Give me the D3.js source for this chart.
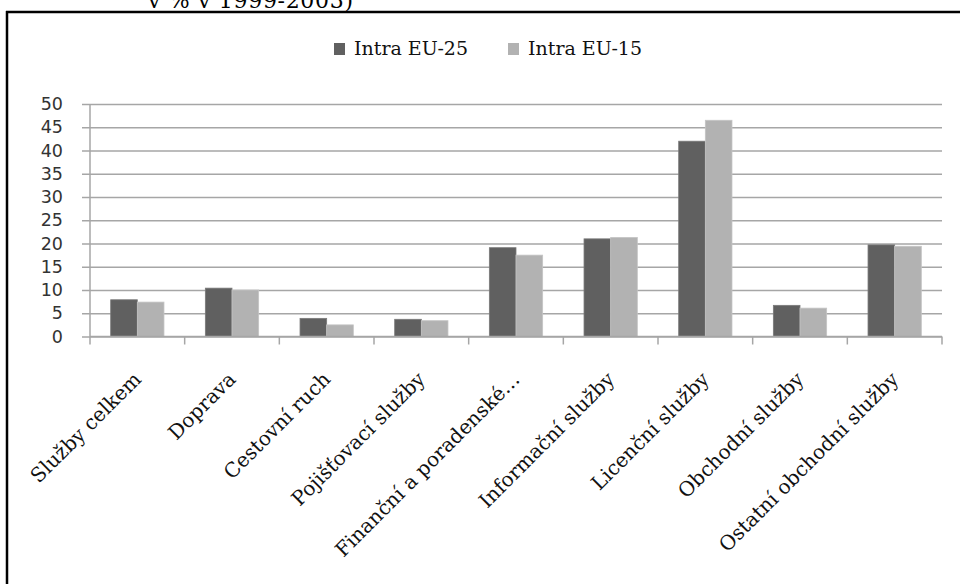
<!DOCTYPE html>
<html>
<head>
<meta charset="UTF-8" />
<title>Intra EU</title>
<script src="https://cdnjs.cloudflare.com/ajax/libs/d3/7.8.5/d3.min.js"></script>
<style>
  body { margin: 0; background: #fff; }
  svg { display: block; }
</style>
</head>
<body>
<script>
// data
var categories = ["Služby celkem", "Doprava", "Cestovní ruch", "Pojišťovací služby",
  "Finanční a poradenské…", "Informační služby", "Licenční služby",
  "Obchodní služby", "Ostatní obchodní služby"];
var seriesNames = ["Intra EU-25", "Intra EU-15"];
var eu25 = [7.9, 10.4, 3.9, 3.7, 19.1, 21.0, 42.0, 6.7, 19.7];
var eu15 = [7.4, 10.0, 2.5, 3.4, 17.5, 21.3, 46.5, 6.1, 19.4];
var yTicks = [0, 5, 10, 15, 20, 25, 30, 35, 40, 45, 50];
var colors = ["#606060", "#b2b2b2"];

var W = 960, H = 584;
var plotL = 90, plotR = 942, plotT = 104, plotB = 336.5;

var svg = d3.select("body").append("svg")
  .attr("width", W)
  .attr("height", H);

// cut-off title and frame
svg.append("text")
  .attr("x", 148).attr("y", 8)
  .attr("font-family", "DejaVu Serif, serif")
  .attr("font-size", 22)
  .attr("textLength", 205)
  .attr("fill", "#000")
  .text("v % v 1999-2003)");
svg.append("line").attr("x1", 6).attr("x2", W).attr("y1", 12).attr("y2", 12)
  .attr("stroke", "#000").attr("stroke-width", 2.5);
svg.append("line").attr("x1", 7).attr("x2", 7).attr("y1", 11).attr("y2", H)
  .attr("stroke", "#000").attr("stroke-width", 2.5);

var y = d3.scaleLinear().domain([0, 50]).range([plotB, plotT]);
var x0 = d3.scaleBand().domain(categories).range([plotL, plotR])
  .paddingInner(0.437).paddingOuter(0.2185);
var x1 = d3.scaleBand().domain(seriesNames).range([0, x0.bandwidth()]);
var step = x0.step();

// grid + y axis
var yAxis = d3.axisLeft(y).tickValues(yTicks).tickSize(-(plotR - plotL));
var gy = svg.append("g").attr("transform", "translate(" + plotL + ",0)").call(yAxis);
gy.select(".domain").remove();
gy.selectAll(".tick line").attr("stroke", "#a6a6a6").attr("stroke-width", 1.5).attr("x1", -8);
gy.selectAll(".tick text")
  .attr("font-family", "DejaVu Sans, sans-serif")
  .attr("font-size", 17.5)
  .attr("fill", "#333")
  .attr("x", -27);

// vertical axis line
svg.append("line").attr("x1", plotL).attr("x2", plotL).attr("y1", plotT).attr("y2", plotB)
  .attr("stroke", "#a6a6a6").attr("stroke-width", 1.5);

// bars
var rows = categories.map(function (c, i) { return { cat: c, vals: [eu25[i], eu15[i]] }; });
var grp = svg.append("g").selectAll("g").data(rows).enter().append("g")
  .attr("transform", function (d) { return "translate(" + x0(d.cat) + ",0)"; });
grp.selectAll("rect").data(function (d) {
    return d.vals.map(function (v, j) { return { name: seriesNames[j], v: v, j: j }; });
  }).enter().append("rect")
  .attr("x", function (d) { return x1(d.name); })
  .attr("y", function (d) { return y(d.v); })
  .attr("width", x1.bandwidth())
  .attr("height", function (d) { return y(0) - y(d.v); })
  .attr("fill", function (d) { return colors[d.j]; })
  .attr("stroke", function (d) { return d.j === 0 ? "#7a7a7a" : "#c4c4c4"; })
  .attr("stroke-width", 0.8);

// x axis line with tick marks between categories
svg.append("line").attr("x1", plotL).attr("x2", plotR).attr("y1", plotB).attr("y2", plotB)
  .attr("stroke", "#a6a6a6").attr("stroke-width", 1.5);
svg.append("g").selectAll("line").data(d3.range(categories.length + 1)).enter().append("line")
  .attr("x1", function (i) { return plotL + i * step; })
  .attr("x2", function (i) { return plotL + i * step; })
  .attr("y1", plotB).attr("y2", plotB + 8)
  .attr("stroke", "#a6a6a6").attr("stroke-width", 1.5);

// rotated category labels
svg.append("g").selectAll("text").data(categories).enter().append("text")
  .attr("transform", function (d) {
    return "translate(" + (x0(d) + x0.bandwidth() / 2 + 5) + "," + (plotB + 44) + ") rotate(-45)";
  })
  .attr("text-anchor", "end")
  .attr("font-family", "DejaVu Serif, serif")
  .attr("font-size", 20)
  .attr("fill", "#111")
  .text(function (d) { return d; });

// legend
var legend = svg.append("g").selectAll("g").data(seriesNames).enter().append("g")
  .attr("transform", function (d, i) { return "translate(" + (334 + i * 174) + ",43)"; });
legend.append("rect").attr("width", 11).attr("height", 12)
  .attr("fill", function (d, i) { return colors[i]; });
legend.append("text").attr("x", 20).attr("y", 12)
  .attr("font-family", "DejaVu Serif, serif")
  .attr("font-size", 19)
  .attr("fill", "#111")
  .text(function (d) { return d; });
</script>
</body>
</html>
